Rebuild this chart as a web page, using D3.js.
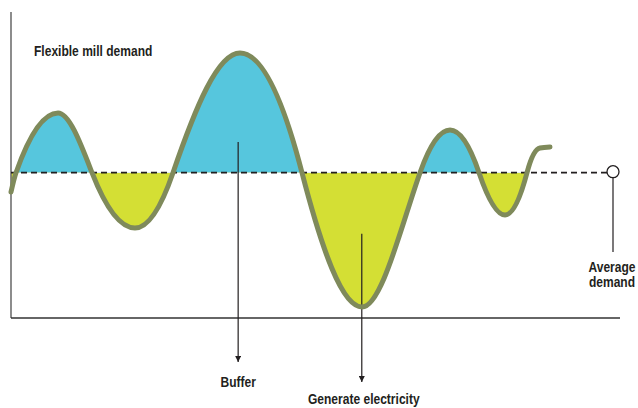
<!DOCTYPE html>
<html>
<head>
<meta charset="utf-8">
<script src="https://cdn.jsdelivr.net/npm/d3@7"></script>
<style>
  html, body { margin: 0; padding: 0; background: #fff; }
  svg { display: block; }
  text { font-family: "Liberation Sans", Arial, sans-serif; font-weight: bold; fill: #231f20; }
</style>
</head>
<body>
<svg id="chart" width="638" height="408"></svg>
<script>
// ---- data (x and y in arbitrary units 0-100) ----
const demandX = [0.00, 0.82, 7.72, 13.30, 20.36, 26.60, 37.60, 47.78, 57.64, 67.16, 72.09, 76.85, 81.12, 84.73, 86.86, 88.51];
const demandY = [41.18, 47.48, 66.99, 47.48, 29.41, 47.48, 86.60, 47.48, 3.59, 47.48, 61.44, 47.48, 33.66, 47.48, 55.56, 55.88];
const averageDemand = 47.48;
const lastFilledX = 84.73;
const annotationLabels = ["Buffer", "Generate electricity"];
const annotationX = [37.3, 57.6];
const annotationTopY = [57.5, 27.5];
const titleText = "Flexible mill demand";
const averageLabel = ["Average", "demand"];

// ---- smooth hand-drawn-like curve (cubic Hermite, flat at turning points) ----
function tangents(X, Y) {
  const n = X.length, t = new Array(n).fill(0), s = [];
  if (n < 2) return t;
  for (let i = 0; i < n - 1; i++) s[i] = (Y[i + 1] - Y[i]) / (X[i + 1] - X[i]) || 0;
  for (let i = 1; i < n - 1; i++) {
    const a = s[i - 1], b = s[i];
    if (a * b <= 0) { t[i] = 0; continue; }
    const h0 = X[i] - X[i - 1], h1 = X[i + 1] - X[i];
    const p = (a * h1 + b * h0) / (h0 + h1);
    t[i] = Math.sign(a) * Math.min(2 * Math.abs(p), 2 * Math.min(Math.abs(a), Math.abs(b)));
  }
  t[0] = n > 2 ? (3 * s[0] - t[1]) / 2 : s[0];
  t[n - 1] = n > 2 ? (3 * s[n - 2] - t[n - 2]) / 2 : s[0];
  return t;
}
function HermiteCurve(context) { this._context = context; }
HermiteCurve.prototype = {
  areaStart() { this._line = 0; },
  areaEnd() { this._line = NaN; },
  lineStart() { this._x = []; this._y = []; },
  point(px, py) { this._x.push(+px); this._y.push(+py); },
  lineEnd() {
    const X = this._x, Y = this._y, n = X.length, c = this._context;
    if (n) {
      this._line ? c.lineTo(X[0], Y[0]) : c.moveTo(X[0], Y[0]);
      const t = tangents(X, Y);
      for (let i = 0; i < n - 1; i++) {
        const h = (X[i + 1] - X[i]) / 3;
        c.bezierCurveTo(X[i] + h, Y[i] + h * t[i], X[i + 1] - h, Y[i + 1] - h * t[i + 1], X[i + 1], Y[i + 1]);
      }
    }
    if (this._line || (this._line !== 0 && n === 1)) c.closePath();
    this._line = 1 - this._line;
  }
};
const curve = ctx => new HermiteCurve(ctx);

// ---- layout ----
const svg = d3.select("#chart");
const x = d3.scaleLinear().domain([0, 100]).range([11, 620]);
const y = d3.scaleLinear().domain([0, 100]).range([318, 12]);

const pts = demandX.map((d, i) => ({ x: d, y: demandY[i] }));

const defs = svg.append("defs");
defs.append("clipPath").attr("id", "above")
  .append("rect").attr("x", 0).attr("y", 0).attr("width", x(lastFilledX)).attr("height", y(averageDemand));
defs.append("clipPath").attr("id", "below")
  .append("rect").attr("x", 0).attr("y", y(averageDemand)).attr("width", x(lastFilledX)).attr("height", 408);

defs.append("marker").attr("id", "arrow")
  .attr("viewBox", "0 0 10 10").attr("refX", 10).attr("refY", 5)
  .attr("markerWidth", 6).attr("markerHeight", 6).attr("markerUnits", "userSpaceOnUse")
  .attr("orient", "auto")
  .append("path").attr("d", "M0,0 L10,5 L0,10 Z").attr("fill", "#231f20");

const area = d3.area().x(d => x(d.x)).y0(y(averageDemand)).y1(d => y(d.y)).curve(curve);
svg.append("path").datum(pts).attr("d", area).attr("fill", "#56c6dd").attr("clip-path", "url(#above)");
svg.append("path").datum(pts).attr("d", area).attr("fill", "#d4df34").attr("clip-path", "url(#below)");

// axes
svg.append("line").attr("x1", x(0)).attr("x2", x(0)).attr("y1", y(100)).attr("y2", y(0))
  .attr("stroke", "#707070").attr("stroke-width", 1.6);
svg.append("line").attr("x1", x(0)).attr("x2", x(100)).attr("y1", y(0)).attr("y2", y(0))
  .attr("stroke", "#333").attr("stroke-width", 1.3);

function label(tx, ty, t, anchor) {
  return svg.append("text")
    .attr("transform", `translate(${tx},${ty}) scale(0.86,1)`)
    .attr("text-anchor", anchor).attr("font-size", 14).text(t);
}

// annotation arrows
annotationLabels.forEach((lab, i) => {
  svg.append("line").attr("x1", x(annotationX[i])).attr("x2", x(annotationX[i]))
    .attr("y1", y(annotationTopY[i])).attr("y2", i === 0 ? 362 : 382)
    .attr("stroke", "#231f20").attr("stroke-width", 1.2).attr("marker-end", "url(#arrow)");
  label(x(annotationX[i]) + (i === 1 ? 2 : 0), i === 0 ? 387 : 404, lab, "middle");
});

// average line
svg.append("line").attr("x1", x(0)).attr("x2", 620).attr("y1", y(averageDemand)).attr("y2", y(averageDemand))
  .attr("stroke", "#231f20").attr("stroke-width", 1.8).attr("stroke-dasharray", "6,4");

// demand curve
const line = d3.line().x(d => x(d.x)).y(d => y(d.y)).curve(curve);
svg.append("path").datum(pts).attr("d", line).attr("fill", "none")
  .attr("stroke", "#7f8a5b").attr("stroke-width", 5).attr("stroke-linecap", "round").attr("stroke-linejoin", "round");

// average marker
svg.append("line").attr("x1", 613).attr("x2", 613).attr("y1", y(averageDemand) + 5).attr("y2", 252)
  .attr("stroke", "#231f20").attr("stroke-width", 1.2);
svg.append("circle").attr("cx", 613).attr("cy", y(averageDemand) - 1).attr("r", 6)
  .attr("fill", "#fff").attr("stroke", "#231f20").attr("stroke-width", 1.3);
averageLabel.forEach((t, i) => label(612, 272 + i * 15, t, "middle"));

// title
label(34, 56, titleText, "start");
</script>
</body>
</html>
